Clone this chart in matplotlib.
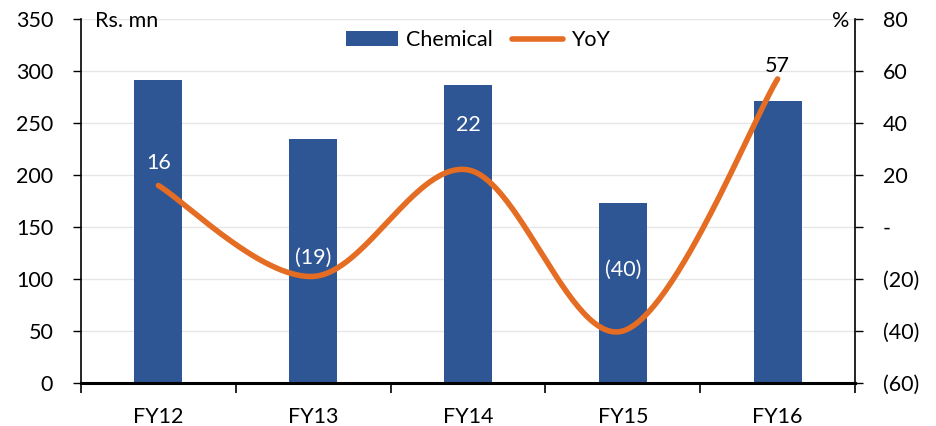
import numpy as np
import matplotlib
matplotlib.use("Agg")
import matplotlib.pyplot as plt
from matplotlib.ticker import FuncFormatter, FixedLocator

plt.rcParams['font.family'] = ['Lato', 'DejaVu Sans']

categories = ["FY12", "FY13", "FY14", "FY15", "FY16"]
chemical = [291, 235, 287, 173, 271]
yoy = [16, -19, 22, -40, 57]
yoy_labels = ["16", "(19)", "22", "(40)", "57"]
label_offsets_pt = [16.5, 13.5, 32.5, 44, 9.5]

bar_color = "#2E5594"
line_color = "#E46C23"
FS = 15.5

fig = plt.figure(figsize=(9.37, 4.26), dpi=100)
ax = fig.add_axes([0.0864, 0.101, 0.8261, 0.854])
ax2 = ax.twinx()

x = np.arange(len(categories))
ax.bar(x, chemical, width=0.31, color=bar_color, zorder=2, label="Chemical")
ax.set_xlim(-0.5, len(categories) - 0.5)
ax.set_ylim(0, 350)
ax.set_yticks(np.arange(0, 351, 50))
ax.grid(axis='y', color='#E6E6E6', linewidth=1, zorder=0)
ax.set_axisbelow(True)

# Excel-like smoothed line (Bezier through points)
def bezier_smooth(xs, ys, n=60):
    xs = np.asarray(xs, float); ys = np.asarray(ys, float)
    px, py = [], []
    m = len(xs)
    for i in range(m - 1):
        p0 = np.array([xs[max(i - 1, 0)], ys[max(i - 1, 0)]])
        p1 = np.array([xs[i], ys[i]])
        p2 = np.array([xs[i + 1], ys[i + 1]])
        p3 = np.array([xs[min(i + 2, m - 1)], ys[min(i + 2, m - 1)]])
        c1 = p1 + (p2 - p0) / 6.0
        c2 = p2 - (p3 - p1) / 6.0
        t = np.linspace(0, 1, n)[:, None]
        pts = ((1 - t) ** 3) * p1 + 3 * ((1 - t) ** 2) * t * c1 + 3 * (1 - t) * t ** 2 * c2 + t ** 3 * p2
        px.extend(pts[:, 0]); py.extend(pts[:, 1])
    return np.array(px), np.array(py)

sx, sy = bezier_smooth(x, yoy)
ax2.plot(sx, sy, color=line_color, linewidth=4, solid_capstyle='round', zorder=3, label="YoY")
ax2.set_ylim(-60, 80)
ax2.set_yticks(np.arange(-60, 81, 20))

def fmt(v, pos):
    v = int(round(v))
    if v == 0:
        return "-"
    if v < 0:
        return "(%d)" % (-v)
    return "%d" % v
ax2.yaxis.set_major_formatter(FuncFormatter(fmt))

for i, (v, lab) in enumerate(zip(yoy, yoy_labels)):
    col = "black" if i == len(yoy) - 1 else "white"
    ax2.annotate(lab, (x[i], v), xytext=(0, label_offsets_pt[i]), textcoords='offset points',
                 ha='center', va='center', fontsize=FS, color=col, zorder=5)

# Axes styling
for a in (ax, ax2):
    a.spines['top'].set_visible(False)
ax.spines['left'].set_linewidth(1.2)
ax2.spines['right'].set_linewidth(1.2)
ax.spines['bottom'].set_linewidth(2.2)
ax2.spines['left'].set_visible(False)
ax2.spines['bottom'].set_visible(False)
ax.spines['right'].set_visible(False)

ax.set_xticks(x)
ax.set_xticklabels(categories, fontsize=FS)
ax.tick_params(axis='x', which='major', length=0, pad=17)
ax.xaxis.set_minor_locator(FixedLocator(np.arange(-0.5, len(categories), 1.0)))
ax.tick_params(axis='x', which='minor', length=7, width=1.2, direction='out')
ax.tick_params(axis='y', labelsize=FS, length=6, width=1, direction='out', pad=14)
ax2.tick_params(axis='y', labelsize=FS, length=6, width=1, direction='out', pad=14)

ax.text(0.018, 0.995, "Rs. mn", transform=ax.transAxes, ha='left', va='center', fontsize=FS)
ax2.text(0.993, 0.995, "%", transform=ax.transAxes, ha='right', va='center', fontsize=FS)

h1, l1 = ax.get_legend_handles_labels()
h2, l2 = ax2.get_legend_handles_labels()
ax.legend(h1 + h2, l1 + l2, loc='upper center', bbox_to_anchor=(0.513, 1.005), ncol=2,
          frameon=False, fontsize=FS, handlelength=2.4, columnspacing=0.9, handletextpad=0.35,
          borderaxespad=0.2)

fig.savefig("out.png", dpi=100)
